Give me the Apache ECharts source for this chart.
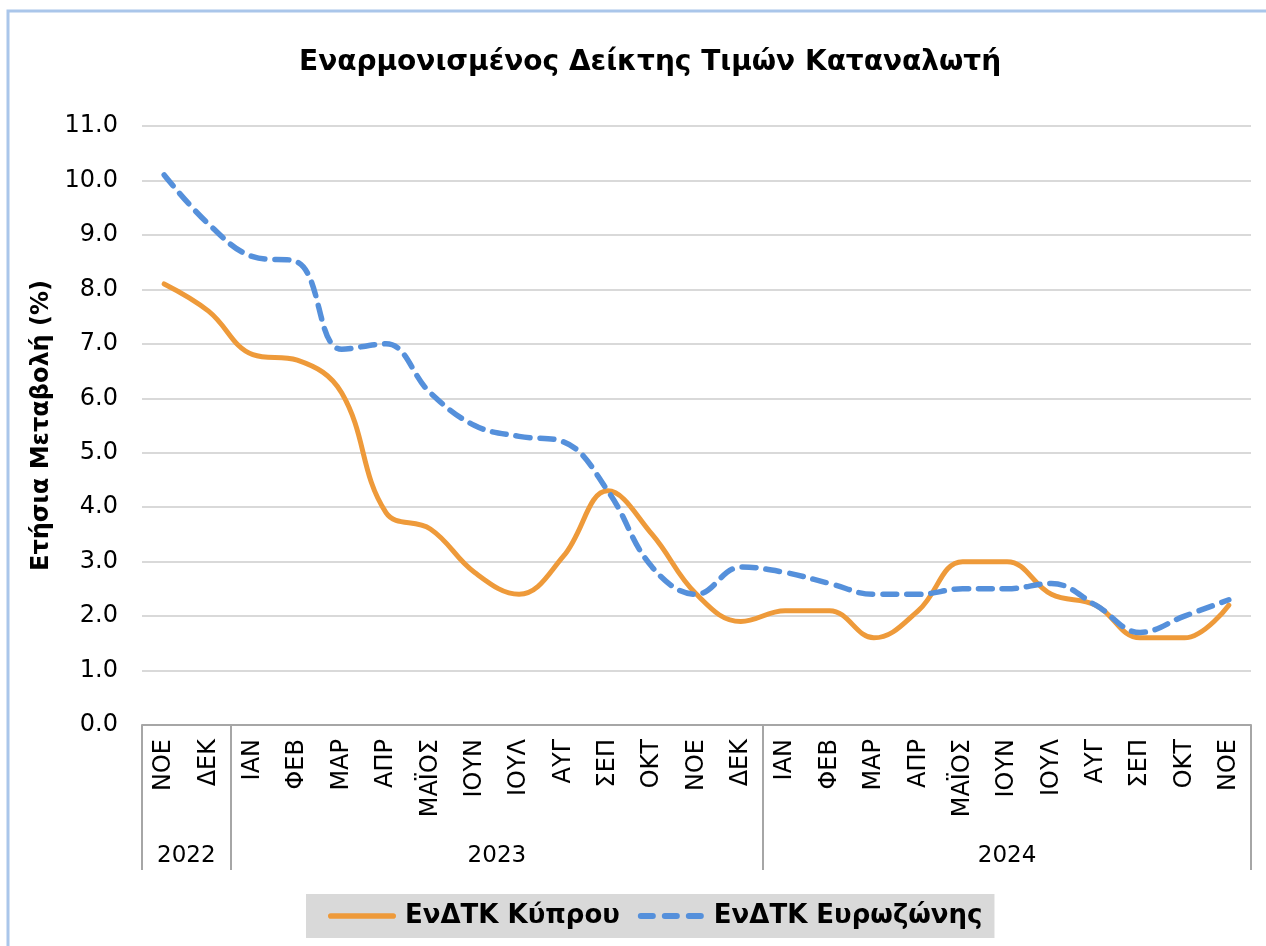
<!DOCTYPE html>
<html>
<head>
<meta charset="utf-8">
<script src="https://cdn.jsdelivr.net/npm/echarts@6/dist/echarts.min.js"></script>
<style>
html,body{margin:0;padding:0;background:#fff;}
#main{width:1266px;height:946px;}
</style>
</head>
<body>
<div id="main"></div>
<script>
var titleText = 'Εναρμονισμένος Δείκτης Τιμών Καταναλωτή';
var yAxisName = 'Ετήσια Μεταβολή (%)';
var months = ['ΝΟΕ','ΔΕΚ','ΙΑΝ','ΦΕΒ','ΜΑΡ','ΑΠΡ','ΜΑΪΟΣ','ΙΟΥΝ','ΙΟΥΛ','ΑΥΓ','ΣΕΠ','ΟΚΤ','ΝΟΕ','ΔΕΚ','ΙΑΝ','ΦΕΒ','ΜΑΡ','ΑΠΡ','ΜΑΪΟΣ','ΙΟΥΝ','ΙΟΥΛ','ΑΥΓ','ΣΕΠ','ΟΚΤ','ΝΟΕ'];
var monthYears = [2022,2022,2023,2023,2023,2023,2023,2023,2023,2023,2023,2023,2023,2023,2024,2024,2024,2024,2024,2024,2024,2024,2024,2024,2024];
var years = ['2022','2023','2024'];
var yearStart = [0, 2, 14];
var yearEnd = [2, 14, 25];
var cyprus = [8.1,7.6,6.8,6.7,6.1,3.9,3.6,2.8,2.4,3.1,4.3,3.5,2.4,1.9,2.1,2.1,1.6,2.1,3.0,3.0,2.4,2.2,1.6,1.6,2.2];
var euro = [10.1,9.2,8.6,8.5,6.9,7.0,6.1,5.5,5.3,5.2,4.3,2.9,2.4,2.9,2.8,2.6,2.4,2.4,2.5,2.5,2.6,2.2,1.7,2.0,2.3];
var seriesNames = ['ΕνΔΤΚ Κύπρου','ΕνΔΤΚ Ευρωζώνης'];

var categories = months.map(function(m,i){ return monthYears[i] + '-' + m; });
var yearTicks = yearStart.concat([yearEnd[yearEnd.length-1]]);
var yearCenters = yearStart.map(function(s,i){ return (s + yearEnd[i]) / 2; });

var ORANGE = '#ee9a3a', BLUE = '#5590db';
var solidIcon = 'path://M3,0H69A3,3 0 0 1 69,6H3A3,3 0 0 1 3,0Z';
var dashIcon = 'path://M3,0H15A3,3 0 0 1 15,6H3A3,3 0 0 1 3,0Z M27,0H39A3,3 0 0 1 39,6H27A3,3 0 0 1 27,0Z M51,0H63A3,3 0 0 1 63,6H51A3,3 0 0 1 51,0Z';

var chart = echarts.init(document.getElementById('main'));
var FONT = 'DejaVu Sans';
chart.setOption({
  backgroundColor: '#fff',
  animation: false,
  textStyle: { fontFamily: FONT },
  graphic: [{
    type: 'rect', silent: true, z: -1,
    shape: { x: 8, y: 11, width: 1300, height: 1000 },
    style: { fill: 'none', stroke: '#aac6ea', lineWidth: 3 }
  }],
  title: {
    text: titleText, left: 294, top: 44,
    textStyle: { fontFamily: FONT, fontWeight: 'bold', fontSize: 28, color: '#000' }
  },
  legend: {
    bottom: 8, left: 306,
    backgroundColor: '#d9d9d9', borderRadius: 0,
    padding: [9, 12, 9, 22],
    itemWidth: 68, itemHeight: 6, itemGap: 18,
    textStyle: { fontFamily: FONT, fontWeight: 'bold', fontSize: 26, color: '#000', padding: [0, 0, 0, 4] },
    data: [{ name: seriesNames[0], icon: solidIcon }, { name: seriesNames[1], icon: dashIcon }]
  },
  grid: { left: 142, right: 15, top: 126, bottom: 221, containLabel: false },
  xAxis: [{
    type: 'category', data: categories, boundaryGap: true,
    axisLine: { show: true, lineStyle: { color: '#a6a6a6', width: 2 } },
    axisTick: { show: false },
    axisLabel: {
      interval: 0, rotate: 90, margin: 14, fontSize: 24, color: '#000', fontFamily: FONT,
      formatter: function(v){ return v.split('-')[1]; }
    },
    splitLine: { show: false }
  }, {
    type: 'value', min: 0, max: 25, position: 'bottom',
    axisLine: { show: false },
    axisTick: { show: true, customValues: yearTicks, length: 145, lineStyle: { color: '#a6a6a6', width: 2 } },
    axisLabel: {
      show: true, customValues: yearCenters, margin: 120, fontSize: 23, color: '#000', fontFamily: FONT,
      formatter: function(v){ var i = yearCenters.indexOf(v); return i >= 0 ? years[i] : ''; }
    },
    splitLine: { show: false }
  }],
  yAxis: {
    type: 'value', min: 0, max: 11, interval: 1,
    name: yAxisName, nameLocation: 'middle', nameGap: 88, nameRotate: 90,
    nameTextStyle: { fontFamily: FONT, fontWeight: 'bold', fontSize: 24, color: '#000' },
    axisLine: { show: false }, axisTick: { show: false },
    axisLabel: { margin: 24, fontSize: 24, color: '#000', fontFamily: FONT,
      formatter: function(v){ return v.toFixed(1); } },
    splitLine: { lineStyle: { color: '#d9d9d9', width: 2 } }
  },
  series: [{
    name: seriesNames[0], type: 'line', data: cyprus, smooth: 0.4, symbol: 'none', xAxisIndex: 0,
    lineStyle: { color: ORANGE, width: 5, cap: 'round' }, itemStyle: { color: ORANGE }, z: 3
  }, {
    name: seriesNames[1], type: 'line', data: euro, smooth: 0.4, symbol: 'none', xAxisIndex: 0,
    lineStyle: { color: BLUE, width: 5.5, type: [14, 10], cap: 'round' }, itemStyle: { color: BLUE }, z: 4
  }]
});
</script>
</body>
</html>
